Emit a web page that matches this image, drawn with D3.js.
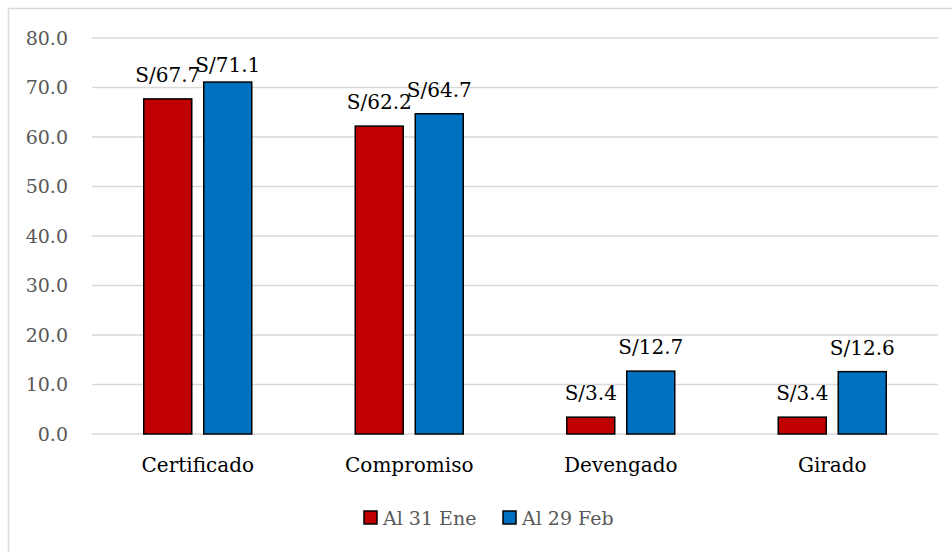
<!DOCTYPE html>
<html>
<head>
<meta charset="utf-8">
<script src="https://cdn.jsdelivr.net/npm/d3@7"></script>
<style>
  body { margin: 0; background: #fff; }
  text { font-family: "DejaVu Serif", serif; }
</style>
</head>
<body>
<script>
const categories = ['Certificado', 'Compromiso', 'Devengado', 'Girado'];
const seriesNames = ['Al 31 Ene', 'Al 29 Feb'];
const eneValues = [67.7, 62.2, 3.4, 3.4];
const febValues = [71.1, 64.7, 12.7, 12.6];
const yTicks = [0, 10, 20, 30, 40, 50, 60, 70, 80];
const colors = ['#C00000', '#0070C0'];

const width = 952, height = 552;
const margin = { top: 38, right: 14, bottom: 118, left: 92 };
const chartWidth = width - margin.left - margin.right;
const chartHeight = height - margin.top - margin.bottom;

const svg = d3.select('body').append('svg')
    .attr('width', width)
    .attr('height', height);

// chart area border (only left/top visible in the crop)
svg.append('rect')
    .attr('x', 8.5).attr('y', 8.5)
    .attr('width', 960).attr('height', 560)
    .attr('fill', 'none')
    .attr('stroke', '#D9D9D9')
    .attr('stroke-width', 1.5);

const g = svg.append('g').attr('transform', 'translate(' + margin.left + ',' + margin.top + ')');

const x = d3.scaleBand().domain(categories).range([0, chartWidth]);
const x1 = d3.scaleBand().domain(seriesNames).range([0, 108]).paddingInner(0.2);
const y = d3.scaleLinear().domain([0, 80]).range([chartHeight, 0]);

// grid
g.selectAll('.grid')
    .data(yTicks)
    .enter().append('line')
    .attr('x1', 0).attr('x2', chartWidth)
    .attr('y1', d => y(d)).attr('y2', d => y(d))
    .attr('stroke', '#D9D9D9')
    .attr('stroke-width', 1.5);

// y axis labels
const yAxis = g.append('g')
    .call(d3.axisLeft(y).tickValues(yTicks).tickFormat(d3.format('.1f')).tickSize(0).tickPadding(24));
yAxis.select('.domain').remove();
yAxis.selectAll('text')
    .attr('fill', '#595959')
    .style('font-size', '19px')
    .style('font-family', '"DejaVu Serif", serif');

// x axis labels
const xAxis = g.append('g')
    .attr('transform', 'translate(0,' + chartHeight + ')')
    .call(d3.axisBottom(x).tickSize(0).tickPadding(24));
xAxis.select('.domain').remove();
xAxis.selectAll('text')
    .attr('fill', '#000')
    .style('font-size', '20px')
    .style('font-family', '"DejaVu Serif", serif');

const data = categories.map((c, i) => ({
    cat: c,
    vals: [{ s: seriesNames[0], v: eneValues[i] }, { s: seriesNames[1], v: febValues[i] }]
}));

const groups = g.selectAll('.group')
    .data(data)
    .enter().append('g')
    .attr('transform', d => 'translate(' + (x(d.cat) + (x.bandwidth() - 108) / 2) + ',0)');

groups.selectAll('rect')
    .data(d => d.vals)
    .enter().append('rect')
    .attr('x', d => x1(d.s))
    .attr('y', d => y(d.v))
    .attr('width', x1.bandwidth())
    .attr('height', d => chartHeight - y(d.v))
    .attr('fill', (d, i) => colors[i])
    .attr('stroke', '#000')
    .attr('stroke-width', 1.5);

// labels sit above the bar, but never above the top of the label area
groups.selectAll('.label')
    .data(d => d.vals)
    .enter().append('text')
    .attr('x', d => x1(d.s) + x1.bandwidth() / 2)
    .attr('y', d => Math.max(y(d.v) - 17, 34))
    .attr('text-anchor', 'middle')
    .attr('fill', '#000')
    .style('font-size', '20px')
    .text(d => 'S/' + d.v.toFixed(1));

// legend
const legend = svg.append('g');
const legendX = [364, 503];
seriesNames.forEach((s, i) => {
    legend.append('rect')
        .attr('x', legendX[i]).attr('y', 511)
        .attr('width', 13).attr('height', 13)
        .attr('fill', colors[i])
        .attr('stroke', '#000')
        .attr('stroke-width', 1.5);
    legend.append('text')
        .attr('x', legendX[i] + 19).attr('y', 525)
        .attr('fill', '#595959')
        .style('font-size', '19px')
        .text(s);
});
</script>
</body>
</html>
